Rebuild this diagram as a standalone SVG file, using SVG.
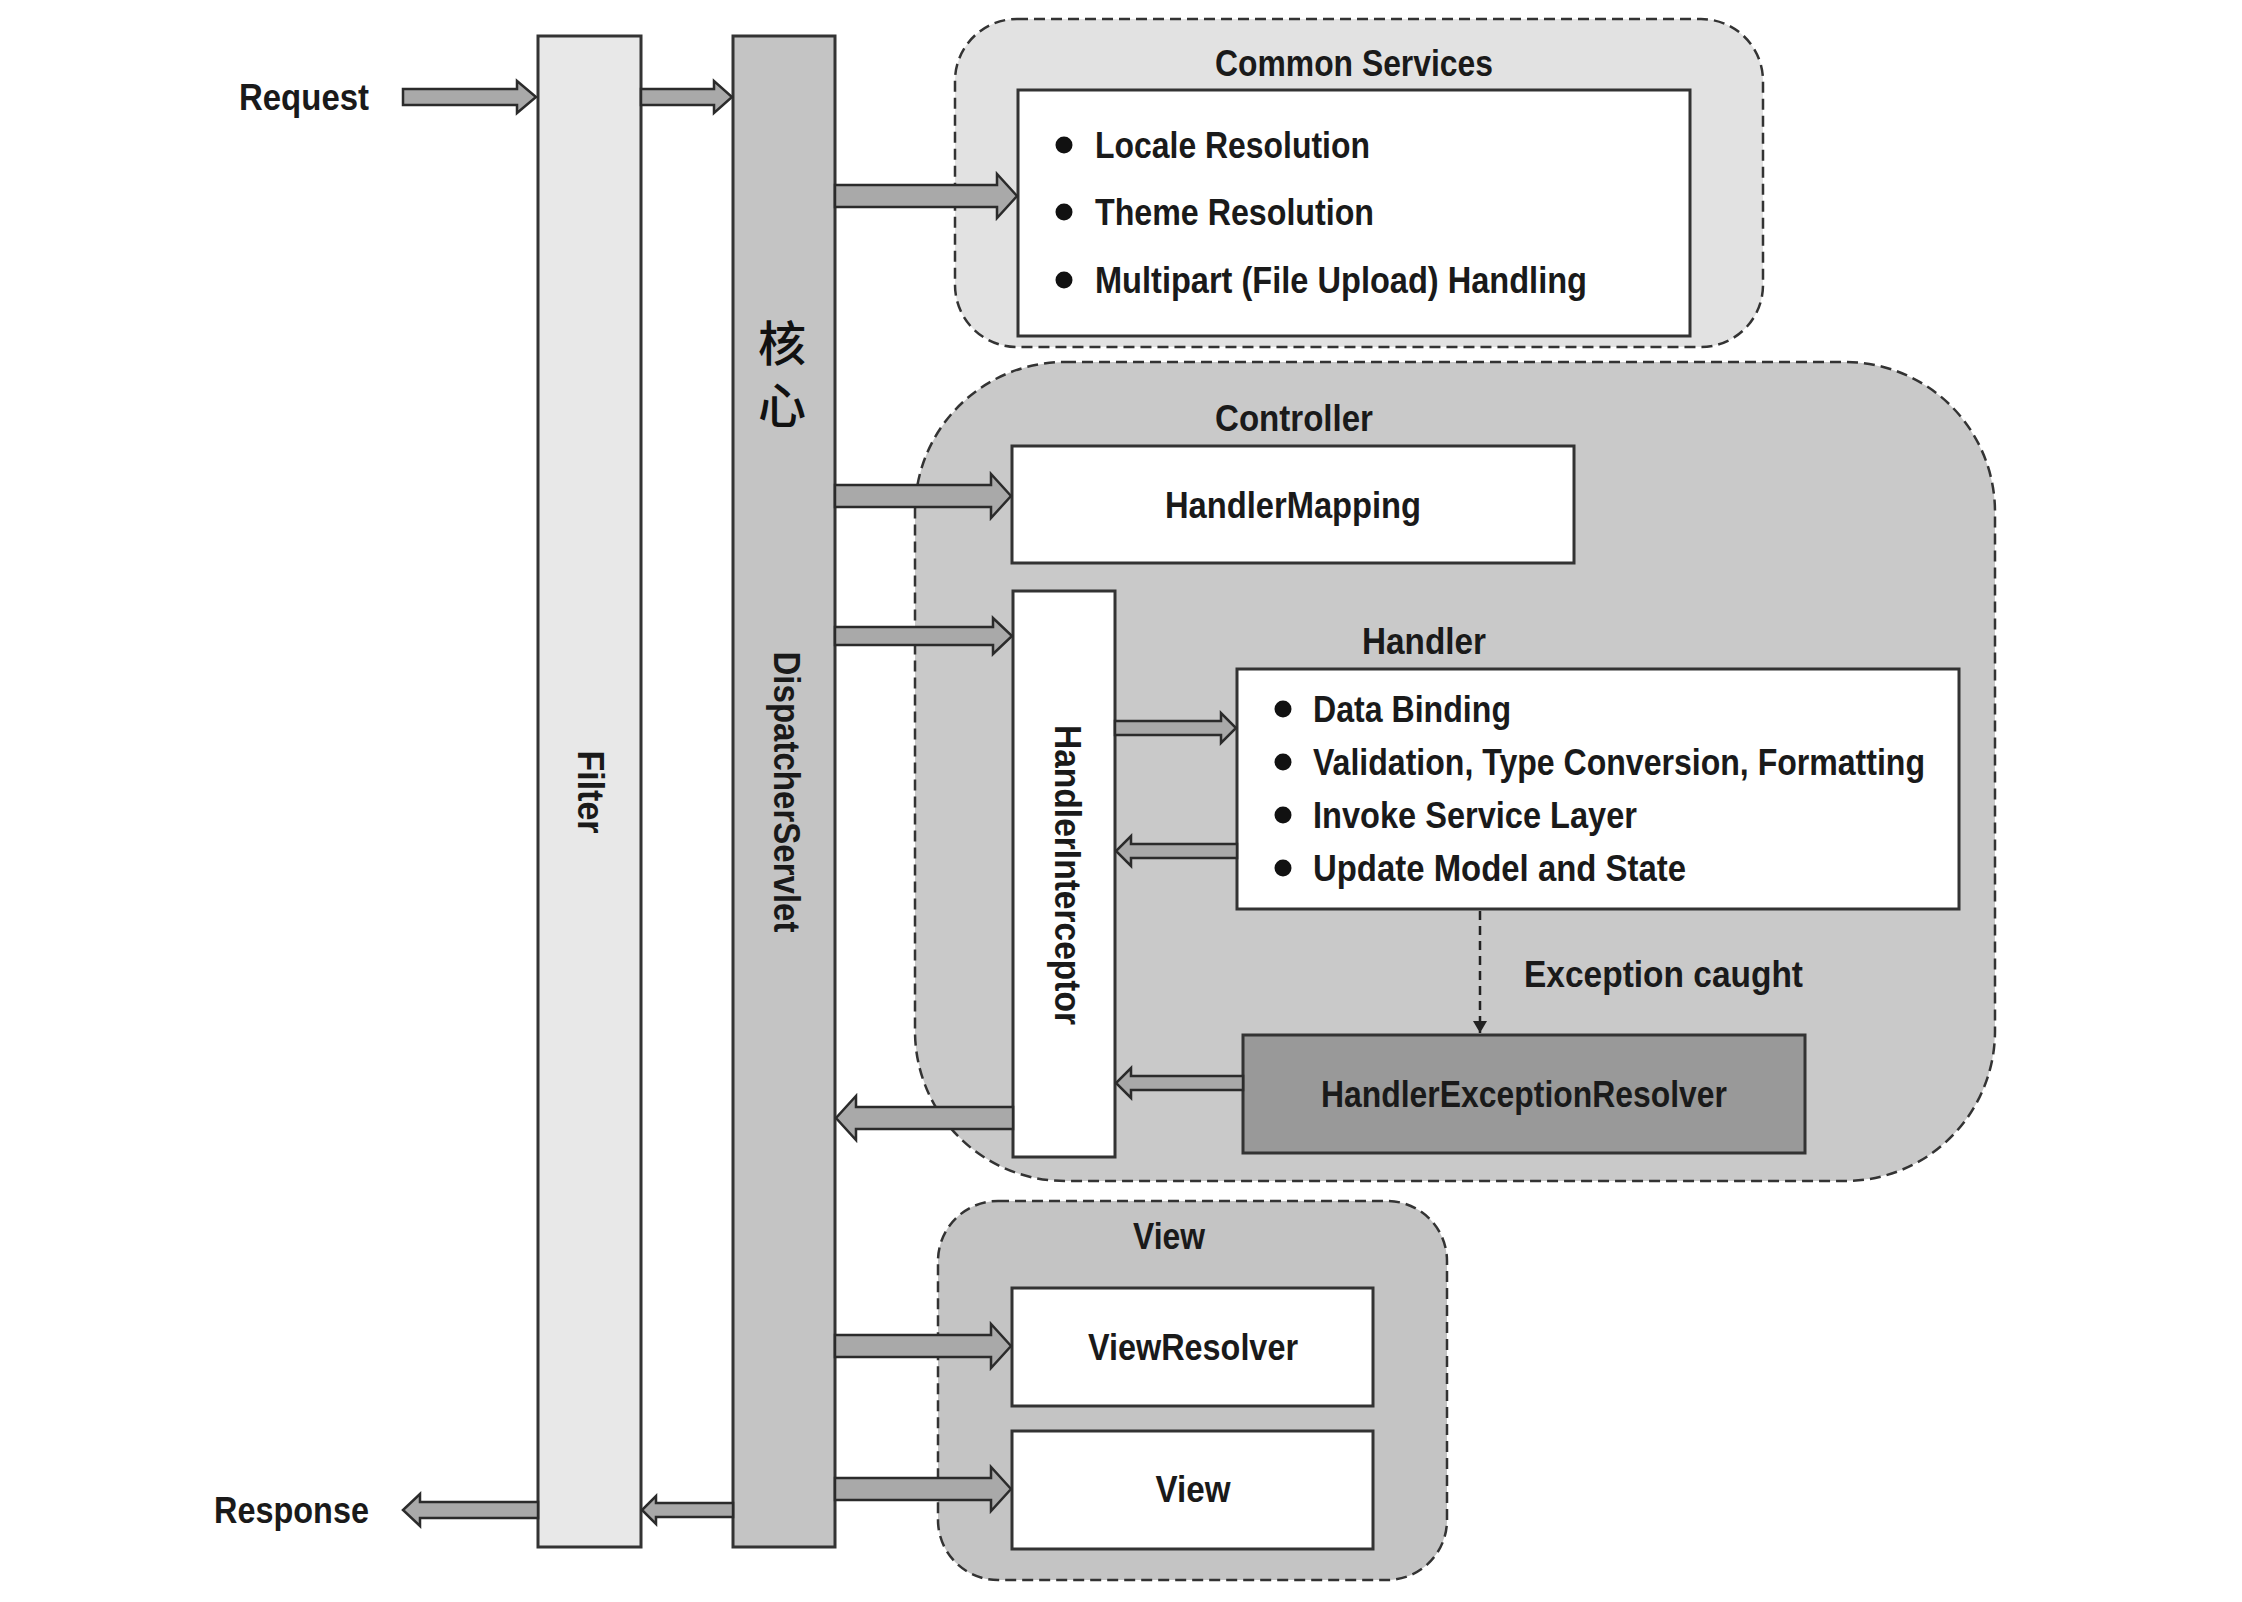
<svg xmlns="http://www.w3.org/2000/svg" width="2242" height="1602" viewBox="0 0 2242 1602">
<style>
.t{font-family:"Liberation Sans Narrow","Liberation Sans",Arial,sans-serif;font-weight:bold;font-size:36px;fill:#1a1a1a;dominant-baseline:central}
.c{text-anchor:middle}
.grp{stroke:#333;stroke-width:2.5;stroke-dasharray:11 6}
.box{stroke:#333;stroke-width:3}
.arr{fill:#a9a9a9;stroke:#2b2b2b;stroke-width:2.5;stroke-linejoin:miter}
.cjk{font-family:"Noto Sans CJK SC","Noto Sans CJK JP",sans-serif;font-size:48px;font-weight:500;fill:#111;text-anchor:middle;writing-mode:vertical-rl;letter-spacing:14px}
</style>
<defs>
<marker id="tri" markerWidth="14" markerHeight="14" refX="12" refY="7" orient="auto" markerUnits="userSpaceOnUse">
<path d="M0,0 L12,7 L0,14 Z" fill="#222"/>
</marker>
</defs>
<rect width="2242" height="1602" fill="#fff"/>

<g id="request-label"><text class="t" x="239" y="97" textLength="130" lengthAdjust="spacingAndGlyphs">Request</text></g>
<g id="response-label"><text class="t" x="214" y="1510" textLength="155" lengthAdjust="spacingAndGlyphs">Response</text></g>

<g id="filter">
<rect class="box" x="538" y="36" width="103" height="1511" fill="#e8e8e8"/>
<text class="t c" transform="translate(590,792) rotate(90)" textLength="83" lengthAdjust="spacingAndGlyphs">Filter</text>
</g>

<g id="dispatcher-servlet">
<rect class="box" x="733" y="36" width="102" height="1511" fill="#c4c4c4"/>
<text class="cjk" x="782" y="381">核心</text>
<text class="t c" transform="translate(786,792) rotate(90)" textLength="281" lengthAdjust="spacingAndGlyphs">DispatcherServlet</text>
</g>

<g id="common-services">
<rect class="grp" x="955" y="19" width="808" height="328" rx="62" ry="62" fill="#e2e2e2"/>
<text class="t c" x="1354" y="63" textLength="278" lengthAdjust="spacingAndGlyphs">Common Services</text>
<rect class="box" x="1018" y="90" width="672" height="246" fill="#fff"/>
<circle cx="1064" cy="145" r="8.5" fill="#111"/>
<circle cx="1064" cy="212" r="8.5" fill="#111"/>
<circle cx="1064" cy="280" r="8.5" fill="#111"/>
<text class="t" x="1095" y="145" textLength="275" lengthAdjust="spacingAndGlyphs">Locale Resolution</text>
<text class="t" x="1095" y="212" textLength="279" lengthAdjust="spacingAndGlyphs">Theme Resolution</text>
<text class="t" x="1095" y="280" textLength="492" lengthAdjust="spacingAndGlyphs">Multipart (File Upload) Handling</text>
</g>

<g id="controller">
<rect class="grp" x="915" y="362" width="1080" height="819" rx="150" ry="150" fill="#c9c9c9"/>
<text class="t c" x="1294" y="418" textLength="158" lengthAdjust="spacingAndGlyphs">Controller</text>
</g>

<g id="handler-mapping">
<rect class="box" x="1012" y="446" width="562" height="117" fill="#fff"/>
<text class="t c" x="1293" y="505" textLength="256" lengthAdjust="spacingAndGlyphs">HandlerMapping</text>
</g>

<g id="handler-interceptor">
<rect class="box" x="1013" y="591" width="102" height="566" fill="#fff"/>
<text class="t c" transform="translate(1067,875) rotate(90)" textLength="300" lengthAdjust="spacingAndGlyphs">HandlerInterceptor</text>
</g>

<g id="handler">
<text class="t c" x="1424" y="641" textLength="124" lengthAdjust="spacingAndGlyphs">Handler</text>
<rect class="box" x="1237" y="669" width="722" height="240" fill="#fff"/>
<circle cx="1283" cy="709" r="8.5" fill="#111"/>
<circle cx="1283" cy="762" r="8.5" fill="#111"/>
<circle cx="1283" cy="815" r="8.5" fill="#111"/>
<circle cx="1283" cy="868" r="8.5" fill="#111"/>
<text class="t" x="1313" y="709" textLength="198" lengthAdjust="spacingAndGlyphs">Data Binding</text>
<text class="t" x="1313" y="762" textLength="612" lengthAdjust="spacingAndGlyphs">Validation, Type Conversion, Formatting</text>
<text class="t" x="1313" y="815" textLength="324" lengthAdjust="spacingAndGlyphs">Invoke Service Layer</text>
<text class="t" x="1313" y="868" textLength="373" lengthAdjust="spacingAndGlyphs">Update Model and State</text>
</g>

<g id="handler-exception-resolver">
<rect class="box" x="1243" y="1035" width="562" height="118" fill="#999"/>
<text class="t c" x="1524" y="1094" textLength="406" lengthAdjust="spacingAndGlyphs">HandlerExceptionResolver</text>
</g>

<g id="view-group">
<rect class="grp" x="938" y="1201" width="509" height="379" rx="60" ry="60" fill="#c4c4c4"/>
<text class="t c" x="1169" y="1236" textLength="72" lengthAdjust="spacingAndGlyphs">View</text>
</g>

<g id="view-resolver">
<rect class="box" x="1012" y="1288" width="361" height="118" fill="#fff"/>
<text class="t c" x="1193" y="1347" textLength="210" lengthAdjust="spacingAndGlyphs">ViewResolver</text>
</g>

<g id="view">
<rect class="box" x="1012" y="1431" width="361" height="118" fill="#fff"/>
<text class="t c" x="1193" y="1489" textLength="75" lengthAdjust="spacingAndGlyphs">View</text>
</g>

<g id="connectors">
<path class="arr" d="M403,89 L517,89 L517,81 L536,97 L517,113 L517,105 L403,105 Z"/>
<path class="arr" d="M641,89 L714,89 L714,81 L732,97 L714,113 L714,105 L641,105 Z"/>
<path class="arr" d="M835,185 L997,185 L997,174 L1017,196 L997,218 L997,207 L835,207 Z"/>
<path class="arr" d="M835,485 L991,485 L991,474 L1011,496 L991,518 L991,507 L835,507 Z"/>
<path class="arr" d="M835,627 L993,627 L993,618 L1012,636 L993,654 L993,645 L835,645 Z"/>
<path class="arr" d="M1013,1107 L856,1107 L856,1096 L836,1118 L856,1140 L856,1129 L1013,1129 Z"/>
<path class="arr" d="M1115,721 L1221,721 L1221,713 L1236,728 L1221,743 L1221,735 L1115,735 Z"/>
<path class="arr" d="M1237,844 L1131,844 L1131,836 L1116,851 L1131,866 L1131,858 L1237,858 Z"/>
<path class="arr" d="M1243,1076 L1131,1076 L1131,1068 L1116,1083 L1131,1098 L1131,1090 L1243,1090 Z"/>
<line x1="1480" y1="911" x2="1480" y2="1033" stroke="#222" stroke-width="2.5" stroke-dasharray="9 6" marker-end="url(#tri)"/>
<text class="t" x="1524" y="974" textLength="279" lengthAdjust="spacingAndGlyphs">Exception caught</text>
<path class="arr" d="M835,1335 L991,1335 L991,1324 L1011,1346 L991,1368 L991,1357 L835,1357 Z"/>
<path class="arr" d="M835,1478 L991,1478 L991,1467 L1011,1489 L991,1511 L991,1500 L835,1500 Z"/>
<path class="arr" d="M733,1503 L656,1503 L656,1496 L642,1510 L656,1524 L656,1517 L733,1517 Z"/>
<path class="arr" d="M538,1502 L420,1502 L420,1494 L403,1510 L420,1526 L420,1518 L538,1518 Z"/>
</g>
</svg>
